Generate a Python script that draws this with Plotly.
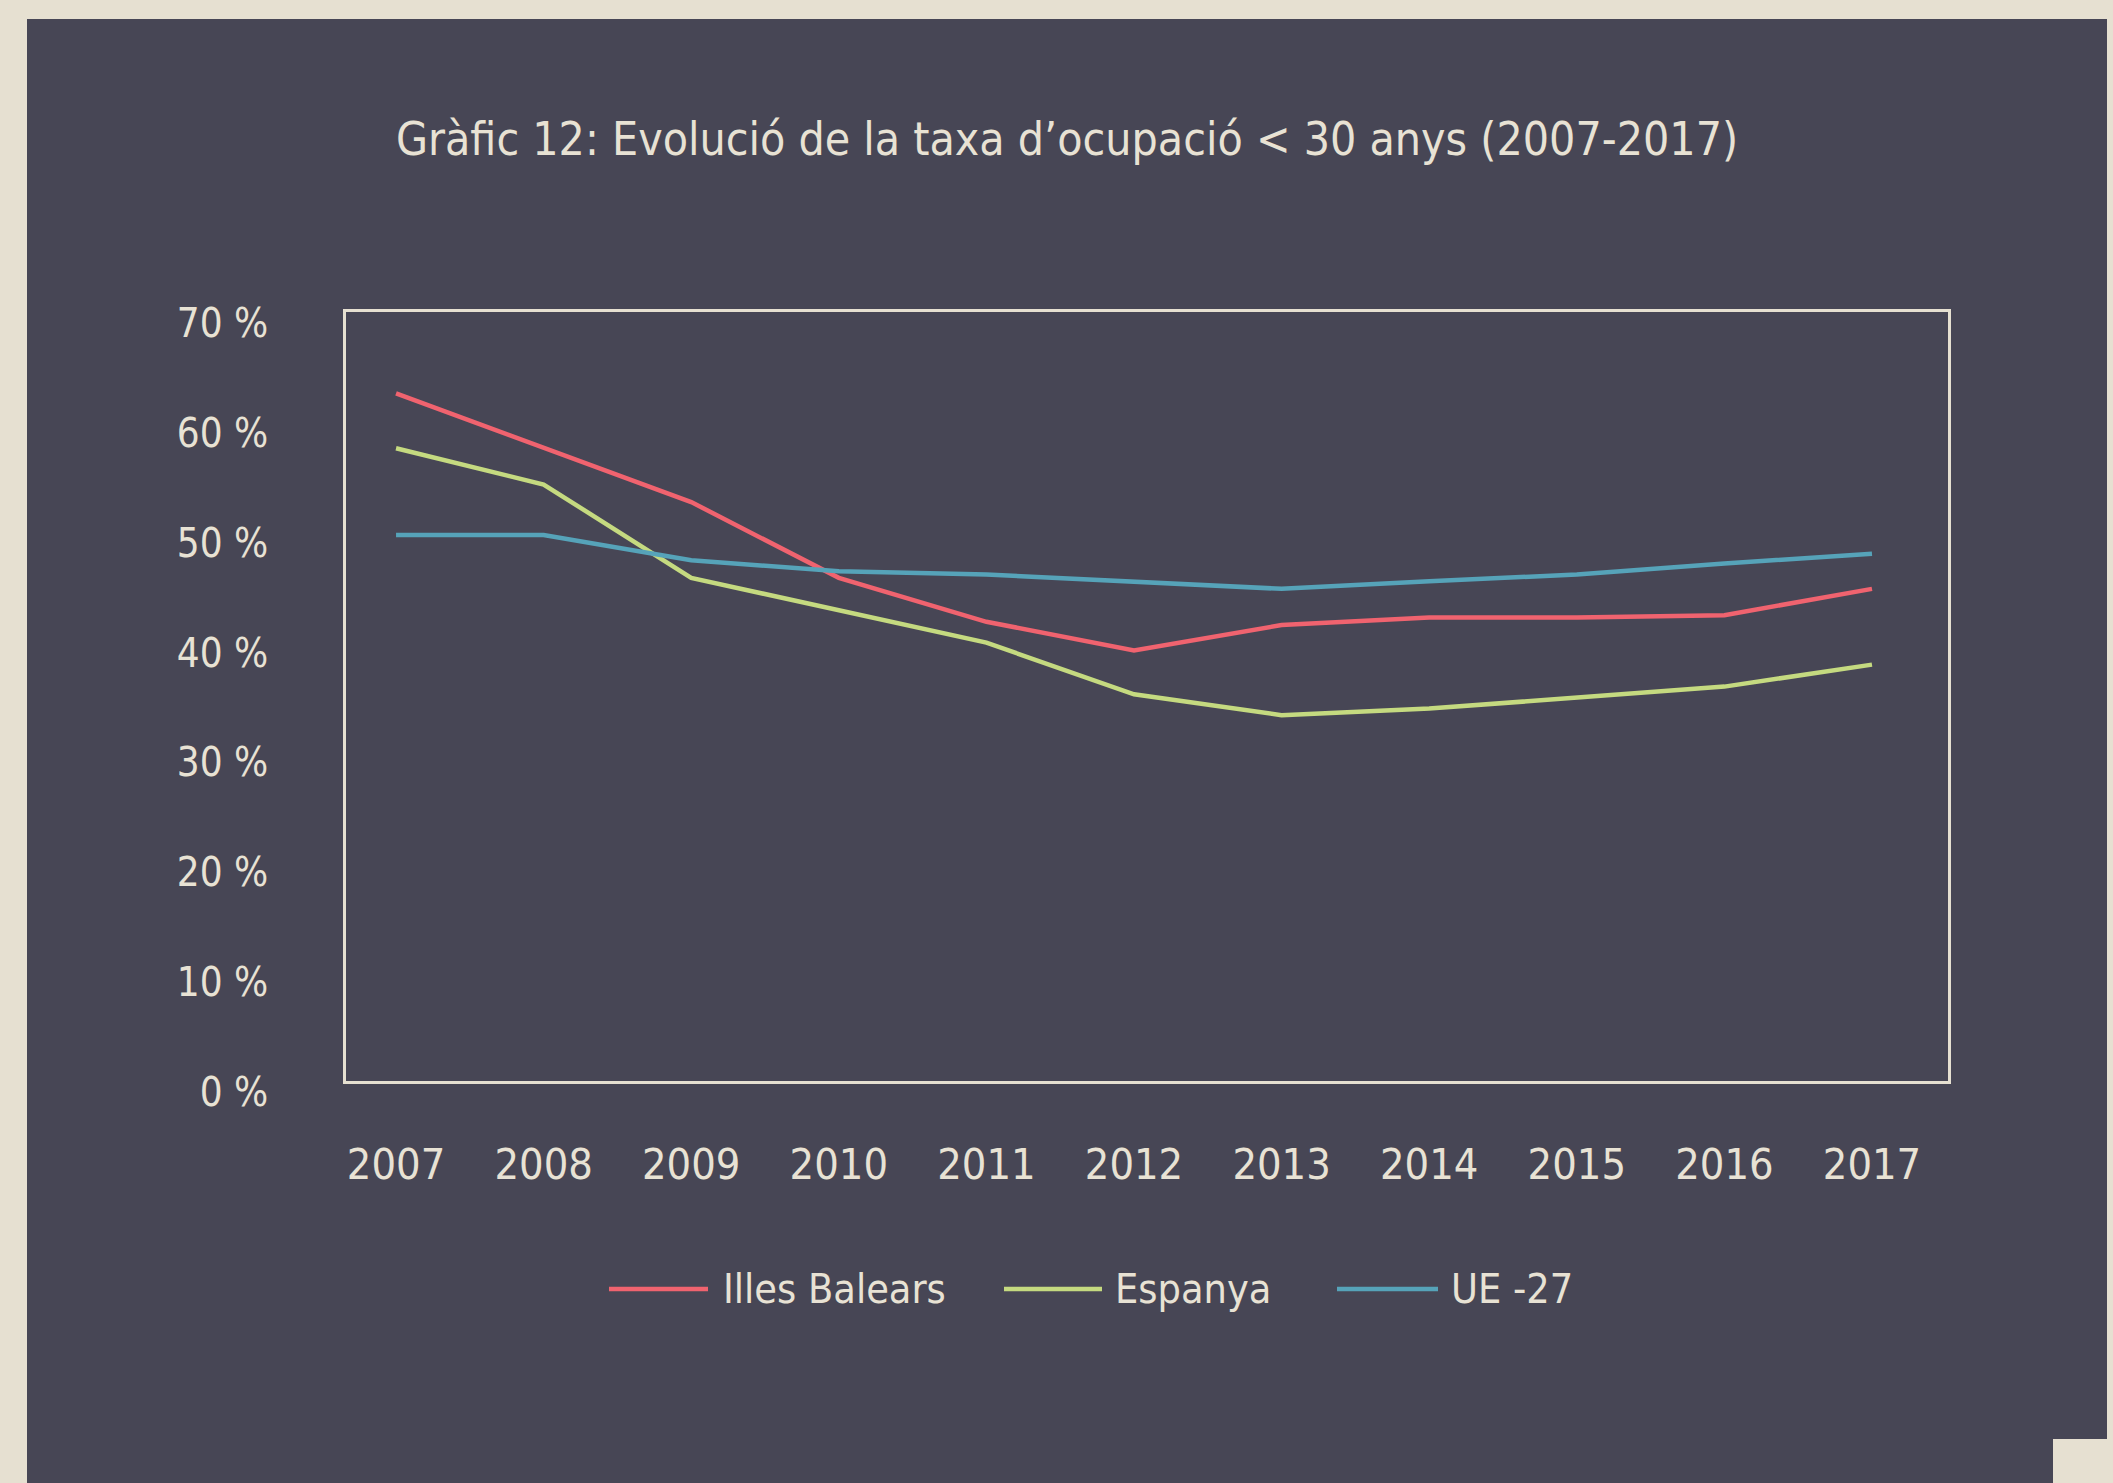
import plotly.graph_objects as go

years = [2007, 2008, 2009, 2010, 2011, 2012, 2013, 2014, 2015, 2016, 2017]
illes_balears = [62.6, 57.7, 52.7, 45.8, 41.8, 39.2, 41.5, 42.2, 42.2, 42.4, 44.8]
espanya = [57.6, 54.3, 45.8, 42.9, 39.9, 35.2, 33.3, 33.9, 34.9, 35.9, 37.9]
ue27 = [49.7, 49.7, 47.4, 46.4, 46.1, 45.5, 44.8, 45.5, 46.1, 47.1, 48.0]
series_names = ["Illes Balears", "Espanya", "UE -27"]
series_colors = ["#F0636F", "#C5DA80", "#56A3B9"]
y_tickvals = [0, 10, 20, 30, 40, 50, 60, 70]
y_ticktext = ["0 %", "10 %", "20 %", "30 %", "40 %", "50 %", "60 %", "70 %"]
title_text = "Gràfic 12: Evolució de la taxa d’ocupació < 30 anys (2007-2017)"

BG = "#474655"
BEIGE = "#E6E0D1"
TXT = "#E8E2D4"
FONT = "'Liberation Sans Narrow', 'DejaVu Sans Condensed', 'Roboto Condensed', 'Noto Sans', sans-serif"

OFF = 0  # page body margin removed by post_script
W, H = 2113 - OFF, 1483 - OFF
L, T = 346 - OFF, 312 - OFF
R, B = W - (1948 - OFF), H - (1081 - OFF)
pw, ph = W - L - R, H - T - B


def px(x):
    """screen x -> paper"""
    return (x - OFF - L) / pw


def py(y):
    """screen y -> paper"""
    return (H - B - (y - OFF)) / ph


fig = go.Figure()
for name, vals, col in zip(series_names, [illes_balears, espanya, ue27], series_colors):
    fig.add_trace(go.Scatter(x=years, y=vals, mode="lines", name=name,
                             line=dict(color=col, width=4.5), showlegend=False))

# custom legend (long line samples like the original)
leg_y = py(1289)
leg_lines = [(609, 708), (1004, 1102), (1337, 1438)]
leg_text_x = [721, 1113, 1449]
shapes = [
    dict(type="rect", xref="paper", yref="paper", x0=px(27), x1=px(2107),
         y0=py(1520), y1=py(19), fillcolor=BG, line=dict(width=0), layer="below"),
    dict(type="rect", xref="paper", yref="paper", x0=px(2053), x1=px(2130),
         y0=py(1520), y1=py(1439), fillcolor=BEIGE, line=dict(width=0), layer="below"),
]
annotations = []
for (x0, x1), tx, name, col in zip(leg_lines, leg_text_x, series_names, series_colors):
    shapes.append(dict(type="line", xref="paper", yref="paper", x0=px(x0), x1=px(x1),
                       y0=leg_y, y1=leg_y, line=dict(color=col, width=4.5)))
    annotations.append(dict(text=name, xref="paper", yref="paper", x=px(tx), y=leg_y,
                            xanchor="left", yanchor="middle", showarrow=False,
                            font=dict(size=41, color=TXT, family=FONT)))

fig.update_layout(
    width=W, height=H,
    margin=dict(l=L, r=R, t=T, b=B, pad=0),
    paper_bgcolor=BEIGE,
    plot_bgcolor=BG,
    font=dict(family=FONT, color=TXT, size=41),
    title=dict(text=title_text, x=px(1067), xref="paper", xanchor="center",
               y=1 - (139 - OFF) / H, yref="container", yanchor="middle",
               font=dict(size=46, color=TXT, family=FONT)),
    xaxis=dict(range=[2006.661, 2017.515], tickvals=years, ticktext=[str(y) for y in years],
               showgrid=False, zeroline=False, showline=True, mirror=True,
               linecolor=BEIGE, linewidth=2.5, ticks="", ticklabelstandoff=44,
               tickfont=dict(size=43, color=TXT)),
    yaxis=dict(range=[0, 70], tickvals=y_tickvals, ticktext=y_ticktext,
               showgrid=False, zeroline=False, showline=True, mirror=True,
               linecolor=BEIGE, linewidth=2.5, ticks="", ticklabelstandoff=67,
               ticklabelshift=11, tickfont=dict(size=40, color=TXT)),
    shapes=shapes,
    annotations=annotations,
    showlegend=False,
)

fig.write_html(
    "out.html",
    config={"displayModeBar": False},
    post_script="document.body.style.margin='0';document.body.style.overflow='hidden';"
                "document.body.style.background='#E6E0D1';",
)
